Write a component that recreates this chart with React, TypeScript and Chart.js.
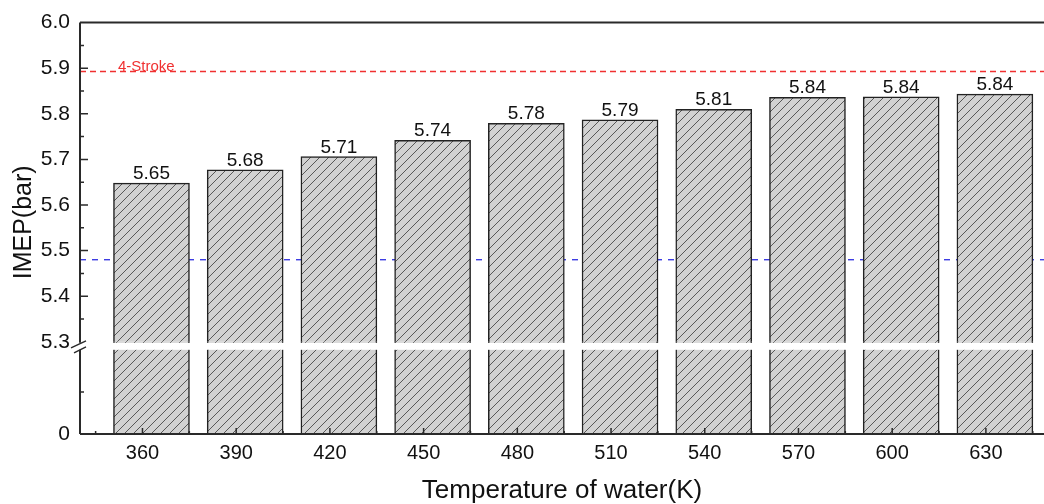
import React, { useEffect, useRef } from 'react';
import { Chart, registerables } from 'chart.js';

Chart.register(...registerables);

// ---- data ----
const temperatures = [360, 390, 420, 450, 480, 510, 540, 570, 600, 630];
const imepValues = [5.648, 5.677, 5.706, 5.742, 5.779, 5.787, 5.81, 5.836, 5.837, 5.843];
const valueLabels = ['5.65', '5.68', '5.71', '5.74', '5.78', '5.79', '5.81', '5.84', '5.84', '5.84'];
const fourStrokeLevel = 5.893;
const fourStrokeLabel = '4-Stroke';
const blueRefLevel = 5.48;
const upperRange = [5.3, 6.0];
const lowerRange = [0, 2.19];
const lowerVisibleTop = 2;
const xTitle = 'Temperature of water(K)';
const yTitle = 'IMEP(bar)';

const FONT = 'Arial, "Liberation Sans", sans-serif';
const AXIS_COLOR = '#2a2a2a';

function makeHatch(ctx: CanvasRenderingContext2D) {
  const s = 9;
  const c = document.createElement('canvas');
  c.width = s;
  c.height = s;
  const g = c.getContext('2d')!;
  g.fillStyle = '#d2d2d2';
  g.fillRect(0, 0, s, s);
  g.strokeStyle = '#4a4a4a';
  g.lineWidth = 0.9;
  g.beginPath();
  for (const o of [-s, 0, s]) {
    g.moveTo(o, s);
    g.lineTo(o + s, 0);
  }
  g.stroke();
  return ctx.createPattern(c, 'repeat')!;
}

const decorPlugin = {
  id: 'decor',
  beforeDatasetsDraw(chart: any) {
    const { ctx, chartArea } = chart;
    const yTop = chart.scales.yTop;
    const y = yTop.getPixelForValue(blueRefLevel);
    ctx.save();
    ctx.strokeStyle = '#2f2fe0';
    ctx.lineWidth = 1.3;
    ctx.setLineDash([6, 6]);
    ctx.beginPath();
    ctx.moveTo(chartArea.left, y);
    ctx.lineTo(chartArea.right, y);
    ctx.stroke();
    ctx.restore();
  },
  afterDatasetsDraw(chart: any) {
    const { ctx, chartArea } = chart;
    const { left, right, top, bottom } = chartArea;
    const yTop = chart.scales.yTop;
    const yBot = chart.scales.yBot;
    const x = chart.scales.x;
    const gapTop = yTop.getPixelForValue(upperRange[0]);
    const gapBottom = yBot.getPixelForValue(lowerVisibleTop);

    ctx.save();
    // white break band
    ctx.fillStyle = '#ffffff';
    if (gapBottom > gapTop + 1) {
      ctx.fillRect(left, gapTop + 1, right - left, gapBottom - gapTop - 1);
    }

    // red 4-stroke line
    const ry = yTop.getPixelForValue(fourStrokeLevel);
    ctx.strokeStyle = '#f03030';
    ctx.lineWidth = 1.5;
    ctx.setLineDash([6, 4]);
    ctx.beginPath();
    ctx.moveTo(left, ry);
    ctx.lineTo(right, ry);
    ctx.stroke();
    ctx.setLineDash([]);
    ctx.fillStyle = '#f03030';
    ctx.font = `15px ${FONT}`;
    ctx.textAlign = 'left';
    ctx.textBaseline = 'alphabetic';
    ctx.fillText(fourStrokeLabel, left + 38, ry);

    // value labels
    const meta = chart.getDatasetMeta(0);
    ctx.fillStyle = '#111';
    ctx.font = `19px ${FONT}`;
    ctx.textAlign = 'center';
    meta.data.forEach((bar: any, i: number) => {
      ctx.fillText(valueLabels[i], bar.x, bar.y - 4);
    });

    // axis lines
    ctx.strokeStyle = AXIS_COLOR;
    ctx.lineWidth = 2;
    ctx.beginPath();
    ctx.moveTo(left, top);
    ctx.lineTo(right, top);
    ctx.moveTo(left, bottom);
    ctx.lineTo(right, bottom);
    ctx.moveTo(left, top);
    ctx.lineTo(left, gapTop + 1);
    ctx.moveTo(left, gapBottom);
    ctx.lineTo(left, bottom);
    ctx.stroke();

    // break slashes
    ctx.lineWidth = 1.5;
    ctx.beginPath();
    ctx.moveTo(left - 9, gapTop + 6);
    ctx.lineTo(left + 6, gapTop - 1);
    ctx.moveTo(left - 6, gapBottom + 3);
    ctx.lineTo(left + 6, gapBottom - 3);
    ctx.stroke();

    // inward ticks
    ctx.lineWidth = 1.5;
    ctx.beginPath();
    const yt = yTop.ticks.map((t: any) => t.value);
    yt.forEach((v: number, i: number) => {
      const py = yTop.getPixelForValue(v);
      if (i > 0 && i < yt.length - 1) {
        ctx.moveTo(left, py);
        ctx.lineTo(left + 8, py);
      }
      if (i > 0) {
        const pm = yTop.getPixelForValue((v + yt[i - 1]) / 2);
        ctx.moveTo(left, pm);
        ctx.lineTo(left + 4, pm);
      }
    });
    const yb = yBot.ticks.map((t: any) => t.value);
    yb.forEach((v: number, i: number) => {
      if (i > 0) {
        const pm = yBot.getPixelForValue((v + yb[i - 1]) / 2);
        ctx.moveTo(left, pm);
        ctx.lineTo(left + 4, pm);
      }
    });
    const xt = x.ticks.map((t: any) => t.value);
    xt.forEach((v: number, i: number) => {
      const px = x.getPixelForValue(v);
      ctx.moveTo(px, bottom);
      ctx.lineTo(px, bottom - 6);
      const step = i > 0 ? v - xt[i - 1] : xt[1] - xt[0];
      const pm = x.getPixelForValue(v - step / 2);
      ctx.moveTo(pm, bottom);
      ctx.lineTo(pm, bottom - 3);
      if (i === xt.length - 1) {
        const pe = x.getPixelForValue(v + step / 2);
        ctx.moveTo(pe, bottom);
        ctx.lineTo(pe, bottom - 3);
      }
    });
    ctx.stroke();

    // y title
    ctx.fillStyle = '#111';
    ctx.font = `25px ${FONT}`;
    ctx.textAlign = 'center';
    ctx.textBaseline = 'middle';
    ctx.translate(24, (top + bottom) / 2 - 6);
    ctx.rotate(-Math.PI / 2);
    ctx.fillText(yTitle, 0, 0);
    ctx.restore();
  },
};

export default function App() {
  const ref = useRef<HTMLCanvasElement | null>(null);

  useEffect(() => {
    const canvas = ref.current!;
    const ctx = canvas.getContext('2d')!;
    const hatch = makeHatch(ctx);
    const points = temperatures.map((t, i) => ({ x: t, y: imepValues[i] }));

    const barStyle = {
      backgroundColor: hatch,
      borderColor: '#222',
      borderWidth: 1.5,
      barThickness: 76,
      grouped: false,
      xAxisID: 'xb',
    };

    const yCommon = {
      type: 'linear',
      position: 'left',
      stack: 'v',
      grid: { display: false, drawTicks: false },
      border: { display: false },
      afterFit: (s: any) => {
        s.width = 80;
      },
    };

    const chart = new Chart(canvas, {
      type: 'bar',
      data: {
        datasets: [
          { ...barStyle, label: 'upper', data: points, yAxisID: 'yTop', order: 0 } as any,
          { ...barStyle, label: 'lower', data: points, yAxisID: 'yBot', order: 1 } as any,
        ],
      },
      options: {
        responsive: false,
        animation: false,
        events: [],
        layout: { padding: { top: 19, left: 0, right: 0, bottom: 0 } },
        plugins: { legend: { display: false }, tooltip: { enabled: false } },
        scales: {
          x: {
            type: 'linear',
            position: 'bottom',
            offset: false,
            min: 340,
            max: 648.6,
            grid: { display: false, drawTicks: false, offset: false },
            border: { display: false },
            ticks: {
              stepSize: 30,
              includeBounds: false,
              autoSkip: false,
              maxRotation: 0,
              padding: 7,
              color: '#111',
              font: { family: FONT, size: 20 },
              callback: (v: any) => String(v),
            },
            title: {
              display: true,
              text: xTitle,
              color: '#111',
              font: { family: FONT, size: 26, lineHeight: 1.0 },
              padding: { top: 0, bottom: 0 },
            },
            afterFit: (s: any) => {
              s.height = 70;
            },
          },
          xb: {
            type: 'linear',
            display: false,
            offset: false,
            min: 337.12,
            max: 645.72,
          },
          yBot: {
            ...yCommon,
            stackWeight: 93,
            min: lowerRange[0],
            max: lowerRange[1],
            ticks: {
              stepSize: 2,
              includeBounds: false,
              autoSkip: false,
              padding: 10,
              color: '#111',
              font: { family: FONT, size: 21 },
              callback: (v: any) => (Number(v) === 0 ? '0' : ''),
            },
          },
          yTop: {
            ...yCommon,
            stackWeight: 322,
            min: upperRange[0],
            max: upperRange[1],
            ticks: {
              stepSize: 0.1,
              autoSkip: false,
              maxTicksLimit: 100,
              padding: 10,
              color: '#111',
              font: { family: FONT, size: 21 },
              callback: (v: any) => Number(v).toFixed(1),
            },
          },
        } as any,
      },
      plugins: [decorPlugin],
    });
    return () => chart.destroy();
  }, []);

  return (
    <div style={{ position: 'fixed', left: 0, top: 0, width: 1044, height: 504, background: '#fff', overflow: 'hidden' }}>
      <canvas ref={ref} width={1044} height={504} style={{ display: 'block' }} />
    </div>
  );
}
